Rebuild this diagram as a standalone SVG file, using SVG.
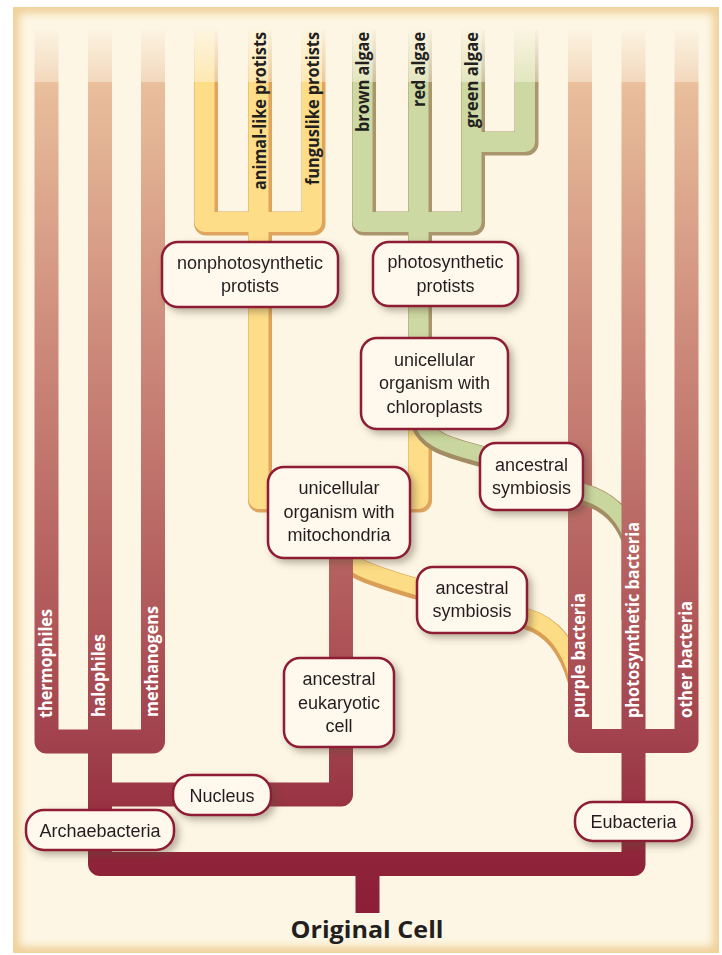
<svg xmlns="http://www.w3.org/2000/svg" width="722" height="955" viewBox="0 0 722 955">
<defs>
  <style>
    .box rect { fill:#FEF9EC; stroke:#8E1B36; stroke-width:2.5; }
    .box text { font-family:"Liberation Sans", Arial, sans-serif; font-size:18px; fill:#231F20; text-anchor:middle; }
    .vw { font-family:"Open Sans", "Liberation Sans", sans-serif; font-weight:700; font-size:17px; fill:#FFFFFF; }
    .vd { font-family:"Open Sans", "Liberation Sans", sans-serif; font-weight:700; font-size:17px; fill:#231F20; }
    .red { fill:none; stroke:url(#red); stroke-width:24; stroke-linejoin:round; }
    .ydark { fill:none; stroke:#DFA45E; stroke-width:24; stroke-linejoin:round; }
    .ylight { fill:none; stroke:#FDDD88; stroke-width:20; stroke-linejoin:round; }
    .gdark { fill:none; stroke:#AA956C; stroke-width:24; stroke-linejoin:round; }
    .glight { fill:none; stroke:#CCD9A2; stroke-width:20; stroke-linejoin:round; }
    .ytd { fill:none; stroke:#DA9F57; stroke-width:21; }
    .ytl { fill:none; stroke:#FCDC84; stroke-width:16; }
    .gtd { fill:none; stroke:#A38C64; stroke-width:21; }
    .gtl { fill:none; stroke:#C9D79F; stroke-width:16; }
  </style>
  <linearGradient id="red" gradientUnits="userSpaceOnUse" x1="0" y1="82" x2="0" y2="913">
    <stop offset="0" stop-color="#E9BF9C"/>
    <stop offset="0.29" stop-color="#CF8E7D"/>
    <stop offset="0.67" stop-color="#AE5458"/>
    <stop offset="0.81" stop-color="#9F3F4B"/>
    <stop offset="0.86" stop-color="#9A3545"/>
    <stop offset="0.94" stop-color="#8E2339"/>
    <stop offset="1" stop-color="#8C1E38"/>
  </linearGradient>
  <linearGradient id="fade" x1="0" y1="0" x2="0" y2="1">
    <stop offset="0" stop-color="#FDF6E4" stop-opacity="0.97"/>
    <stop offset="1" stop-color="#FDF6E4" stop-opacity="0.45"/>
  </linearGradient>
  <filter id="glow" x="-5%" y="-5%" width="110%" height="110%">
    <feGaussianBlur stdDeviation="4"/>
  </filter>
  <clipPath id="panelClip"><rect x="13" y="7" width="706" height="946"/></clipPath>
  <filter id="sh" x="-20%" y="-20%" width="150%" height="160%">
    <feDropShadow dx="4" dy="4" stdDeviation="3.5" flood-color="#5A4A3A" flood-opacity="0.4"/>
  </filter>
</defs>

<rect x="0" y="0" width="722" height="955" fill="#FFFFFF"/>
<rect x="13" y="7" width="706" height="946" fill="#FDF6E4"/>
<rect x="13" y="7" width="706" height="946" fill="none" stroke="#EFCF94" stroke-width="12" filter="url(#glow)" clip-path="url(#panelClip)"/>

<g id="connectors">
  <g id="yellow-fork">
    <path class="ydark" d="M206 30 V223.5 H313.5 V30 M260 30 V500.5 H420 V420"/>
    <path class="ylight" transform="translate(-1.5,-1.5)" d="M206 30 V223.5 H313.5 V30 M260 30 V500.5 H420 V422"/>
  </g>
  <g id="green-fork">
    <path class="gdark" d="M364 30 V223.5 H473 V30 M420 30 V340 M473 143.5 H526.5 V30"/>
    <path class="glight" transform="translate(-1.5,-1.5)" d="M364 30 V223.5 H473 V30 M420 30 V342 M473 143.5 H526.5 V30"/>
  </g>
  <g id="yellow-symbiosis">
    <path class="ytd" d="M335 545 C345 568 370 575 417 589 L527 619 C550 626 568 645 578 680"/>
    <path class="ytl" transform="translate(0,-2)" d="M335 545 C345 568 370 575 417 589 L527 619 C550 626 568 645 577 678"/>
  </g>
  <g id="red-tree">
    <path class="red" d="M46.5 30 V741.5 H153 V30 M100 30 V741.5"/>
    <path class="red" d="M580 30 V741 H686.5 V30 M633.5 30 V741"/>
    <path class="red" d="M100 741 V864 H633.5 V741"/>
    <path class="red" d="M100 794.5 H341 V540"/>
    <path class="red" d="M367.5 864 V913"/>
  </g>
  <g id="green-symbiosis">
    <path class="gtd" d="M420 420 C426 440 442 446 480 456 L583 494 C605 500 625 515 634 545"/>
    <path class="gtl" transform="translate(0,-2)" d="M420 420 C426 440 442 446 480 456 L583 494 C605 500 624 515 633 543"/>
  </g>
  <path class="red" d="M633.5 400 V620"/>
  <rect x="30" y="28" width="672" height="54" fill="url(#fade)"/>
</g>

<g id="labels">
  <text class="vw" transform="translate(52,718) rotate(-90)" textLength="109" lengthAdjust="spacingAndGlyphs">thermophiles</text>
  <text class="vw" transform="translate(105,717) rotate(-90)" textLength="83" lengthAdjust="spacingAndGlyphs">halophiles</text>
  <text class="vw" transform="translate(158,717) rotate(-90)" textLength="111" lengthAdjust="spacingAndGlyphs">methanogens</text>
  <text class="vw" transform="translate(585,718) rotate(-90)" textLength="125" lengthAdjust="spacingAndGlyphs">purple bacteria</text>
  <text class="vw" transform="translate(639,718) rotate(-90)" textLength="196" lengthAdjust="spacingAndGlyphs">photosynthetic bacteria</text>
  <text class="vw" transform="translate(692,718) rotate(-90)" textLength="117" lengthAdjust="spacingAndGlyphs">other bacteria</text>
  <text class="vd" transform="translate(266,190) rotate(-90)" textLength="158" lengthAdjust="spacingAndGlyphs">animal-like protists</text>
  <text class="vd" transform="translate(319,185) rotate(-90)" textLength="153" lengthAdjust="spacingAndGlyphs">funguslike protists</text>
  <text class="vd" transform="translate(369,132) rotate(-90)" textLength="100" lengthAdjust="spacingAndGlyphs">brown algae</text>
  <text class="vd" transform="translate(425,107) rotate(-90)" textLength="75" lengthAdjust="spacingAndGlyphs">red algae</text>
  <text class="vd" transform="translate(478,128) rotate(-90)" textLength="96" lengthAdjust="spacingAndGlyphs">green algae</text>
</g>

<g id="nonphotosynthetic" class="box" filter="url(#sh)">
  <rect x="162" y="242" width="176" height="65" rx="16"/>
  <text x="250" y="268.5">nonphotosynthetic</text>
  <text x="250" y="292">protists</text>
</g>
<g id="photosynthetic" class="box" filter="url(#sh)">
  <rect x="373" y="242" width="145" height="64" rx="16"/>
  <text x="445.5" y="268">photosynthetic</text>
  <text x="445.5" y="291.5">protists</text>
</g>
<g id="chloroplasts" class="box" filter="url(#sh)">
  <rect x="361" y="338" width="147" height="91" rx="16"/>
  <text x="434.5" y="365.5">unicellular</text>
  <text x="434.5" y="389">organism with</text>
  <text x="434.5" y="412.5">chloroplasts</text>
</g>
<g id="symbiosis-upper" class="box" filter="url(#sh)">
  <rect x="480" y="443" width="103" height="67" rx="16"/>
  <text x="531.5" y="470.5">ancestral</text>
  <text x="531.5" y="494">symbiosis</text>
</g>
<g id="symbiosis-lower" class="box" filter="url(#sh)">
  <rect x="417" y="567" width="110" height="66" rx="16"/>
  <text x="472" y="593.5">ancestral</text>
  <text x="472" y="617">symbiosis</text>
</g>
<g id="mitochondria" class="box" filter="url(#sh)">
  <rect x="268" y="467" width="142" height="91" rx="16"/>
  <text x="339" y="494">unicellular</text>
  <text x="339" y="517.5">organism with</text>
  <text x="339" y="541">mitochondria</text>
</g>
<g id="eukaryotic" class="box" filter="url(#sh)">
  <rect x="284" y="658" width="110" height="89" rx="16"/>
  <text x="339" y="685">ancestral</text>
  <text x="339" y="708.5">eukaryotic</text>
  <text x="339" y="732">cell</text>
</g>
<g id="nucleus" class="box" filter="url(#sh)">
  <rect x="173" y="775" width="98" height="40" rx="18"/>
  <text x="222" y="801.5">Nucleus</text>
</g>
<g id="archaebacteria" class="box" filter="url(#sh)">
  <rect x="26" y="810" width="148" height="40" rx="18"/>
  <text x="100" y="836.5">Archaebacteria</text>
</g>
<g id="eubacteria" class="box" filter="url(#sh)">
  <rect x="575" y="802" width="117" height="39" rx="18"/>
  <text x="633.5" y="828">Eubacteria</text>
</g>
<g id="original-cell">
  <text x="367" y="938" font-family="'Open Sans', 'Liberation Sans', sans-serif" font-weight="700" font-size="23" fill="#231F20" text-anchor="middle" textLength="153" lengthAdjust="spacingAndGlyphs">Original Cell</text>
</g>
</svg>
